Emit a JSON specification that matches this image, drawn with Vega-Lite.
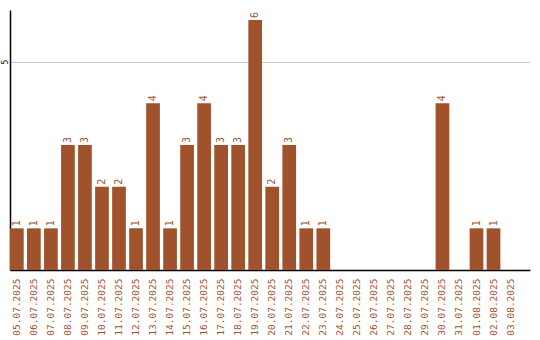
{
  "$schema": "https://vega.github.io/schema/vega-lite/v6.json",
  "width": 520,
  "height": 260,
  "autosize": {"type": "none"},
  "padding": {"left": 10, "top": 10, "right": 10, "bottom": 70},
  "background": "white",
  "config": {"view": {"stroke": null}},
  "data": {"values": [
    {"d": "05.07.2025", "v": 1},
    {"d": "06.07.2025", "v": 1},
    {"d": "07.07.2025", "v": 1},
    {"d": "08.07.2025", "v": 3},
    {"d": "09.07.2025", "v": 3},
    {"d": "10.07.2025", "v": 2},
    {"d": "11.07.2025", "v": 2},
    {"d": "12.07.2025", "v": 1},
    {"d": "13.07.2025", "v": 4},
    {"d": "14.07.2025", "v": 1},
    {"d": "15.07.2025", "v": 3},
    {"d": "16.07.2025", "v": 4},
    {"d": "17.07.2025", "v": 3},
    {"d": "18.07.2025", "v": 3},
    {"d": "19.07.2025", "v": 6},
    {"d": "20.07.2025", "v": 2},
    {"d": "21.07.2025", "v": 3},
    {"d": "22.07.2025", "v": 1},
    {"d": "23.07.2025", "v": 1},
    {"d": "24.07.2025", "v": null},
    {"d": "25.07.2025", "v": null},
    {"d": "26.07.2025", "v": null},
    {"d": "27.07.2025", "v": null},
    {"d": "28.07.2025", "v": null},
    {"d": "29.07.2025", "v": null},
    {"d": "30.07.2025", "v": 4},
    {"d": "31.07.2025", "v": null},
    {"d": "01.08.2025", "v": 1},
    {"d": "02.08.2025", "v": 1},
    {"d": "03.08.2025", "v": null}
  ]},
  "encoding": {
    "x": {
      "field": "d", "type": "nominal", "sort": null,
      "scale": {
        "domain": ["05.07.2025","06.07.2025","07.07.2025","08.07.2025","09.07.2025","10.07.2025","11.07.2025","12.07.2025","13.07.2025","14.07.2025","15.07.2025","16.07.2025","17.07.2025","18.07.2025","19.07.2025","20.07.2025","21.07.2025","22.07.2025","23.07.2025","24.07.2025","25.07.2025","26.07.2025","27.07.2025","28.07.2025","29.07.2025","30.07.2025","31.07.2025","01.08.2025","02.08.2025","03.08.2025"],
        "paddingInner": 0.195, "paddingOuter": 0.37, "align": 0},
      "axis": {
        "title": null, "labelAngle": -90, "labelAlign": "right", "labelBaseline": "middle",
        "labelFont": "DejaVu Sans Mono", "labelFontSize": 9.5, "labelColor": "#A0522D",
        "labelPadding": 8, "ticks": false, "domainColor": "#000", "domainWidth": 1.5, "grid": false
      }
    },
    "y": {
      "field": "v", "type": "quantitative",
      "scale": {"domain": [0, 6.24], "nice": false},
      "axis": {
        "title": null, "values": [5], "labelAngle": -90, "labelAlign": "center", "labelBaseline": "middle",
        "labelFont": "DejaVu Sans Mono", "labelFontSize": 8, "labelColor": "#000",
        "labelPadding": 5, "ticks": false, "domainColor": "#000", "domainWidth": 1.5,
        "grid": true, "gridColor": "#cccccc", "gridWidth": 1
      }
    }
  },
  "layer": [
    {"mark": {"type": "bar", "color": "#A0522D"}},
    {
      "mark": {"type": "text", "angle": 270, "align": "left", "baseline": "middle", "dx": 2,
        "font": "DejaVu Sans Mono", "fontSize": 10, "color": "#A0522D"},
      "encoding": {"text": {"field": "v", "type": "quantitative"}}
    }
  ]
}
